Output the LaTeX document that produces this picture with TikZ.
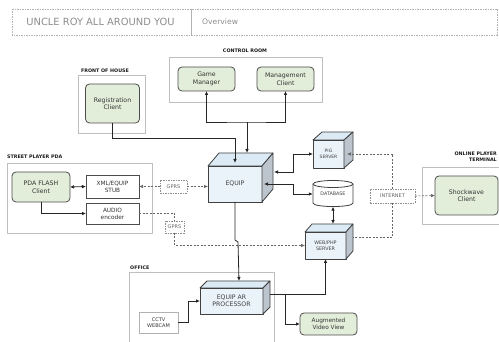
\documentclass[tikz,border=0pt]{standalone}
\usepackage{fontspec}
\setmainfont{DejaVu Sans}
\usetikzlibrary{calc,arrows.meta}

\definecolor{nodegreen}{HTML}{E2EEDA}
\definecolor{cubefront}{HTML}{EAF3FA}
\definecolor{cubetop}{HTML}{DCEAF5}
\definecolor{cubeside}{HTML}{BCC5CE}

% top and side faces of a box node: name, depth x, depth y
\newcommand{\cubefaces}[3]{%
  \filldraw[cubeline, fill=cubetop] (#1.north west) -- ([shift={(#2,-#3)}]#1.north west)
     -- ([shift={(#2,-#3)}]#1.north east) -- (#1.north east) -- cycle;
  \filldraw[cubeline, fill=cubeside] (#1.north east) -- ([shift={(#2,-#3)}]#1.north east)
     -- ([shift={(#2,-#3)}]#1.south east) -- (#1.south east) -- cycle;
}

\tikzset{
  >={Latex[length=4pt,width=3.6pt]},
  client/.style={draw=black!70, fill=nodegreen, rounded corners=4pt, line width=0.8pt,
    align=center, text=black!80, inner sep=0pt, outer sep=0pt, font=\fontsize{6.2}{7.6}\selectfont},
  plainbox/.style={draw=black!70, fill=white, line width=0.8pt, align=center, text=black!80,
    inner sep=0pt, outer sep=0pt, font=\fontsize{5.8}{7}\selectfont},
  cubeline/.style={draw=black!75, line width=0.8pt, line join=round},
  cube/.style={cubeline, fill=cubefront, align=center, text=black!75, inner sep=0pt,
    outer sep=0pt, font=\fontsize{5}{6.2}\selectfont},
  group/.style={draw=black!25, line width=0.6pt},
  grouptitle/.style={font=\bfseries\fontsize{4.8}{5.6}\selectfont, text=black!90, inner sep=0pt},
  netbox/.style={draw=black!45, line width=0.5pt, dash pattern=on 1.5pt off 1pt, fill=white,
    text=black!60, inner sep=0pt, outer sep=0pt, font=\fontsize{5}{6}\selectfont},
  link/.style={draw=black!85, line width=0.8pt},
  net/.style={draw=black!60, line width=0.6pt, dash pattern=on 2pt off 1.5pt}
}

\begin{document}
\begin{tikzpicture}[x=1pt, y=-1pt]
\useasboundingbox (0,0) rectangle (499,342);
\clip (0,0) rectangle (499,342);

% header
\draw[black!30, line width=0.5pt, dash pattern=on 1.5pt off 1pt] (12,9) rectangle (497,35);
\draw[black!30, line width=0.5pt] (191,9) -- (191,35);
\node[text=black!45, font=\fontsize{9.9}{11}\selectfont, inner sep=0pt] (title) at (100.5,22) {UNCLE ROY ALL AROUND YOU};
\node[text=black!45, font=\fontsize{7.6}{8.5}\selectfont, inner sep=0pt, anchor=west] (view) at (202,22) {Overview};

% groups
\draw[group] (169,57) rectangle (322,102);
\node[grouptitle] (ctrl) at (245,51) {CONTROL ROOM};
\draw[group] (78,75) rectangle (145,133);
\node[grouptitle] (foh) at (105,70.5) {FRONT OF HOUSE};
\draw[group] (7,163) rectangle (152,233);
\node[grouptitle, anchor=west] (street) at (7,157) {STREET PLAYER PDA};
\draw[group] (422,167) rectangle (510,224);
\node[grouptitle, align=right, anchor=north east] (online) at (497,152) {ONLINE PLAYER\\TERMINAL};
\draw[group] (129,272) rectangle (274,350);
\node[grouptitle, anchor=west] (office) at (130,268) {OFFICE};

% clients
\node[client, minimum width=57pt, minimum height=24pt] (gm) at (206.5,79) {Game\\Manager};
\node[client, minimum width=57pt, minimum height=24pt] (mc) at (285.5,79) {Management\\Client};
\node[client, minimum width=54pt, minimum height=39pt] (reg) at (112.5,103.5) {Registration\\Client};
\node[client, minimum width=58pt, minimum height=30pt] (pda) at (41,187) {PDA FLASH\\Client};
\node[client, minimum width=63pt, minimum height=39pt] (shock) at (466.5,195.5) {Shockwave\\Client};
\node[client, minimum width=57pt, minimum height=22pt, font=\fontsize{5.8}{7}\selectfont] (aug) at (328.5,324) {Augmented\\Video View};

% plain boxes
\node[plainbox, minimum width=53pt, minimum height=23pt] (xml) at (112.5,186.5) {XML/EQUIP\\STUB};
\node[plainbox, minimum width=53pt, minimum height=21pt] (audio) at (112.5,213.5) {AUDIO\\encoder};
\node[plainbox, draw=black!30, line width=0.5pt, minimum width=39pt, minimum height=21pt,
  font=\fontsize{5}{6}\selectfont] (cctv) at (158.5,322.5) {CCTV\\WEBCAM};

% network boxes
\node[netbox, minimum width=27pt, minimum height=13pt] (gprsA) at (173.5,186.5) {GPRS};
\node[netbox, minimum width=19pt, minimum height=12pt] (gprsB) at (174.5,227) {GPRS};
\node[netbox, minimum width=45pt, minimum height=14pt] (inet) at (392.5,196) {INTERNET};

% servers
\node[cube, minimum width=54pt, minimum height=36pt, font=\fontsize{6.2}{7}\selectfont] (equip) at (235,184) {EQUIP};
\cubefaces{equip}{11}{13}
\node[cube, minimum width=31pt, minimum height=28pt, font=\fontsize{4.5}{5.6}\selectfont] (pig) at (328.5,154) {PIG\\SERVER};
\cubefaces{pig}{9}{8}
\node[cube, minimum width=41pt, minimum height=27pt, font=\fontsize{4.8}{6}\selectfont] (web) at (325.5,245.5) {WEB/PHP\\SERVER};
\cubefaces{web}{7}{8}
\node[cube, minimum width=63pt, minimum height=26pt, font=\fontsize{6.2}{7.4}\selectfont] (ar) at (231.5,301) {EQUIP AR\\PROCESSOR};
\cubefaces{ar}{7}{7}

% database
\filldraw[cubeline, fill=white] (313,184) -- (313,203) .. controls (313,207.7) and (353,207.7) .. (353,203) -- (353,184);
\filldraw[cubeline, fill=white] (333,184) ellipse (20 and 3.5);
\node[text=black!75, inner sep=0pt, minimum width=40pt, minimum height=25pt,
  font=\fontsize{4.8}{6}\selectfont] (db) at (333,194) {DATABASE};

% control room links
\coordinate (crbus) at (247,122);
\draw[link, <->] (gm.south) |- (crbus) -| (mc.south);
\draw[link, ->] (crbus) -- ($(equip.north)+(12,-13)$);
\draw[link, ->] (reg.south) |- (235,138) -- ($(equip.north)+(0,-3)$);

% street player links
\draw[link, <->] (pda.east) -- (xml.west);
\draw[link, ->] (pda.south) |- (audio.west);
\draw[net, ->] (gprsA.west) -- (xml.east);
\draw[net, ->] (gprsA.east) -- (gprsA.east -| equip.west);
\draw[net] (audio.east) -| (gprsB.north);
\draw[net, ->] (gprsB.south) |- (web.west);

% servers
\draw[link, <->] ($(equip.east)+(12,-12)$) -- ++(19,0) |- (pig.west);
\draw[link, <->] ($(equip.east)+(2,0)$) -- ++(29,0) |- (db.west);
\draw[link, <->] (db.south) -- ($(web.north)+(7.5,-8)$);

% internet
\draw[net, ->] (inet.north) |- ($(pig.east)+(3,0)$);
\draw[net] (inet.south) |- ($(web.east)+(7,-8)$);
\draw[net, ->] (inet.east) -- (shock.west);

% office
\draw[link, ->] (equip.south) -- ++(0,38) -- ++(3,2) -- ($(ar.north)+(7.5,-7)$);
\draw[link, ->] (cctv.east) -- ++(10,0) |- (ar.west);
\coordinate (arout) at ($(ar.east)+(7,-7)$);
\draw[link, ->] (arout) -| (web.south);
\draw[link, ->] ($(arout)+(15,0)$) |- (aug.west);
\end{tikzpicture}
\end{document}
